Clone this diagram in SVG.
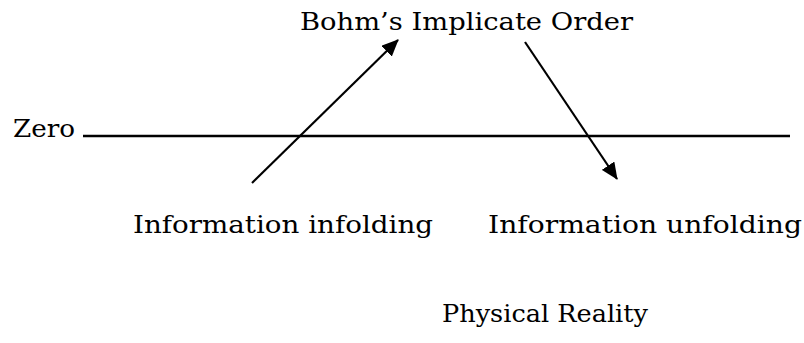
<svg xmlns="http://www.w3.org/2000/svg" width="804" height="343" viewBox="0 0 804 343">
<style>
  .t { font-family: "DejaVu Serif", "Liberation Serif", serif; font-size: 25px; fill: #000; }
  .c { stroke: #000; stroke-width: 2.2; fill: none; }
</style>
<defs>
  <marker id="ah" markerWidth="17" markerHeight="15" refX="16" refY="7.5" orient="auto" markerUnits="userSpaceOnUse">
    <path d="M0,0 L17,7.5 L0,15 Z" fill="#000"/>
  </marker>
</defs>
<rect width="804" height="343" fill="#fff"/>
<g id="bohm"><text class="t" x="300" y="30" textLength="333" lengthAdjust="spacingAndGlyphs">Bohm’s Implicate Order</text></g>
<g id="zero"><text class="t" x="13" y="137" textLength="62" lengthAdjust="spacingAndGlyphs">Zero</text></g>
<g id="infolding"><text class="t" x="133" y="233" textLength="300" lengthAdjust="spacingAndGlyphs">Information infolding</text></g>
<g id="unfolding"><text class="t" x="488" y="233" textLength="314" lengthAdjust="spacingAndGlyphs">Information unfolding</text></g>
<g id="physical"><text class="t" x="442" y="322" textLength="206" lengthAdjust="spacingAndGlyphs">Physical Reality</text></g>
<g id="connectors">
  <line x1="83" y1="136" x2="790" y2="136" stroke="#000" stroke-width="2.6"/>
  <line class="c" x1="252" y1="183" x2="398" y2="40" marker-end="url(#ah)"/>
  <line class="c" x1="525" y1="42" x2="617" y2="179" marker-end="url(#ah)"/>
</g>
</svg>
